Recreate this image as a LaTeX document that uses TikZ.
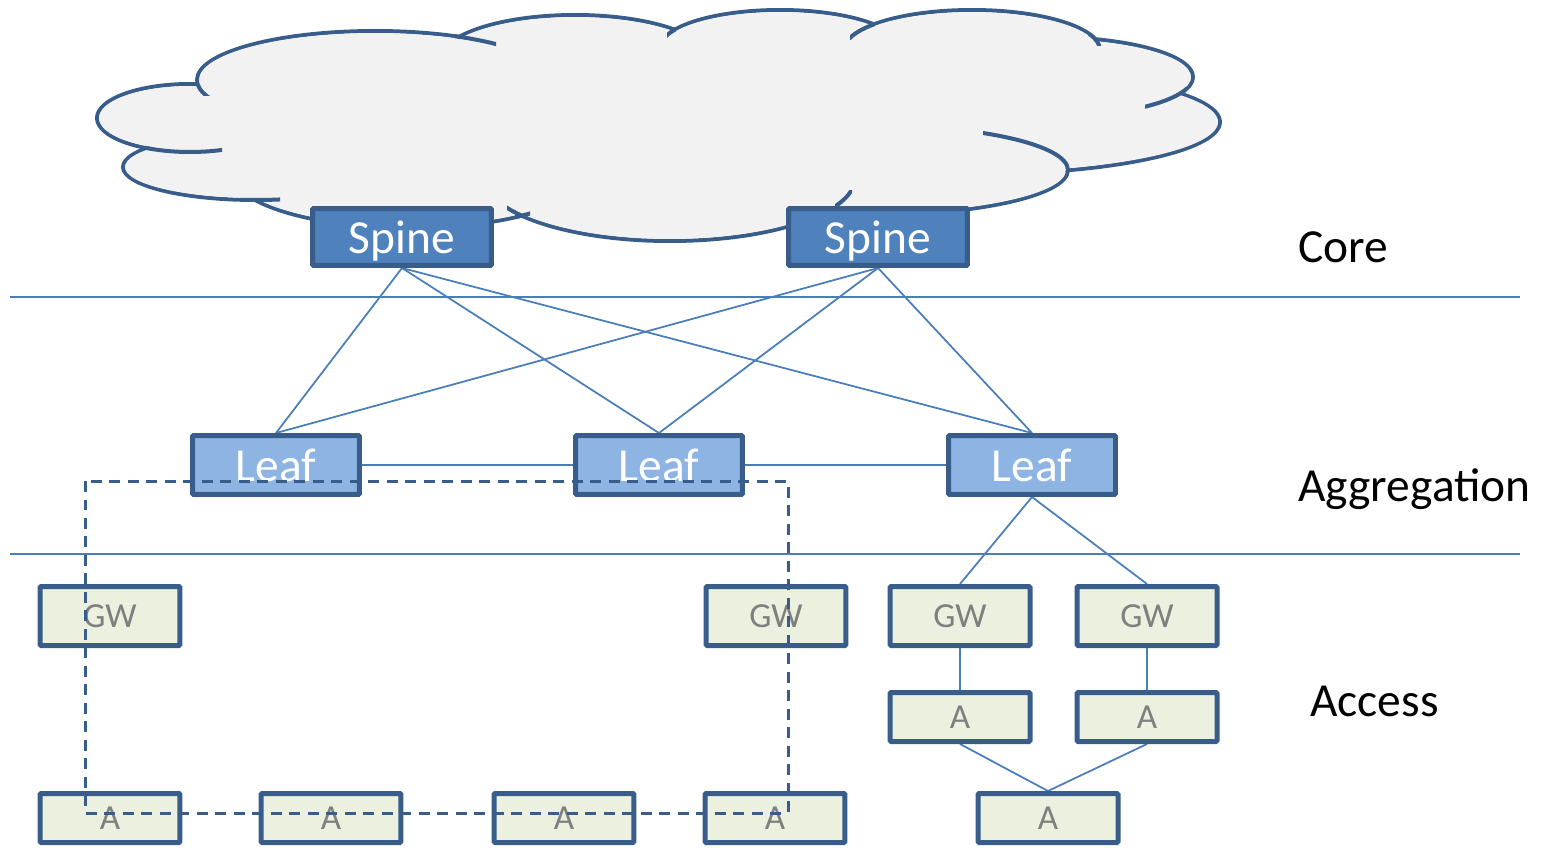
\documentclass[tikz,border=0pt]{standalone}
\usepackage{fontspec}
\setmainfont{Carlito}
\usetikzlibrary{backgrounds}
\definecolor{boxline}{HTML}{385D8A}
\definecolor{cloudfill}{HTML}{F2F2F2}
\definecolor{spinefill}{HTML}{4F81BD}
\definecolor{leaffill}{HTML}{8EB4E3}
\definecolor{accfill}{HTML}{EBF1DE}
\definecolor{linkcol}{HTML}{4A7EBB}
\definecolor{txtgray}{HTML}{7F7F7F}
\begin{document}
\begin{tikzpicture}[x=0.02cm,y=-0.02cm,
  cloudstroke/.style={draw=boxline,line width=0.08cm},
  basebox/.style={draw=boxline,line width=0.1cm,rounded corners=0.6pt,inner sep=0pt},
  spinebox/.style={basebox,fill=spinefill,minimum width=3.58cm,minimum height=1.14cm,text depth=0pt,text=white,font=\fontsize{27}{30}\selectfont},
  leafbox/.style={basebox,fill=leaffill,minimum width=3.34cm,minimum height=1.18cm,text=white,font=\fontsize{27}{30}\selectfont},
  gwbox/.style={basebox,fill=accfill,minimum width=2.8cm,minimum height=1.18cm,text=txtgray,font=\fontsize{20}{24}\selectfont},
  abox/.style={basebox,fill=accfill,minimum width=2.8cm,minimum height=0.98cm,text=txtgray,font=\fontsize{20}{24}\selectfont},
  link/.style={draw=linkcol,line width=1pt},
  sepline/.style={draw=linkcol,line width=1.1pt},
  dashline/.style={draw=boxline,line width=0.06cm,dash pattern=on 0.22cm off 0.15cm},
  layerlabel/.style={anchor=west,inner sep=0pt,font=\fontsize{27}{30}\selectfont}]
\useasboundingbox (0,0) rectangle (1551,848);

% ---- nodes ----
\node[spinebox] (s1) at (402,237) {Spine};
\node[spinebox] (s2) at (878,237) {Spine};
\node[leafbox] (l1) at (276,465) {Leaf};
\node[leafbox] (l2) at (659,465) {Leaf};
\node[leafbox] (l3) at (1032,465) {Leaf};
\node[gwbox] (g1) at (110,616) {GW};
\node[gwbox] (g2) at (776,616) {GW};
\node[gwbox] (g3) at (960,616) {GW};
\node[gwbox] (g4) at (1147,616) {GW};
\node[abox] (a3) at (960,717) {A};
\node[abox] (a4) at (1147,717) {A};
\node[abox] (a5) at (1048,818) {A};
\node[abox] (b1) at (110,818) {A};
\node[abox] (b2) at (331,818) {A};
\node[abox] (b3) at (564,818) {A};
\node[abox] (b4) at (775,818) {A};

\begin{scope}[on background layer]
% ---- cloud ----
\def\cloudlist{190/118/1.86/0.68, 256/167/2.66/0.66, 410/171/3.6/1.14, 670/178/3.7/1.26, 871/170/3.94/0.90, 977/122/4.86/1.04, 1048/77/2.90/0.80, 972/50/2.56/0.80, 780/48/2.40/0.76, 575/60/2.70/0.90, 375/80/3.56/0.98}
\foreach \cx/\cy/\rx/\ry in \cloudlist {
  \filldraw[fill=cloudfill,cloudstroke] (\cx,\cy) ellipse [x radius=\rx cm,y radius=\ry cm];
}
\fill[cloudfill] (640,120) ellipse [x radius=8cm,y radius=1.4cm];
\foreach \cx/\cy/\rx/\ry in \cloudlist {
  \fill[cloudfill] (\cx,\cy) ellipse [x radius=\rx cm-0.04cm,y radius=\ry cm-0.04cm];
}
% inner hooks
\foreach \cx/\cy/\rx/\ry/\xa/\ya/\xb/\yb in {
  375/80/3.56/0.98/195/85/210/96,
  375/80/3.56/0.98/455/30/496/50,
  780/48/2.40/0.76/667/26/676/38,
  972/50/2.56/0.80/850/20/875/40,
  972/50/2.56/0.80/1088/34/1102/46,
  1048/77/2.90/0.80/1145/85/1186/110,
  871/170/3.94/0.90/983/125/1072/171,
  670/178/3.7/1.26/835/190/852/207,
  670/178/3.7/1.26/507/205/523/218,
  410/171/3.6/1.14/515/208/530/222,
  256/167/2.66/0.66/240/190/280/204,
  190/118/1.86/0.68/145/140/222/156} {
  \begin{scope}
    \clip (\xa,\ya) rectangle (\xb,\yb);
    \draw[cloudstroke] (\cx,\cy) ellipse [x radius=\rx cm,y radius=\ry cm];
  \end{scope}
}
% ---- separators ----
\draw[sepline] (10,297) -- (1520,297);
\draw[sepline] (10,554) -- (1520,554);
% ---- connectors ----
\foreach \s in {s1,s2} {
  \foreach \l in {l1,l2,l3} {
    \draw[link] (\s.south) -- (\l.north);
  }
}
\draw[link] (l1.east) -- (l2.west);
\draw[link] (l2.east) -- (l3.west);
\draw[link] (l3.south) -- (g3.north);
\draw[link] (l3.south) -- (g4.north);
\draw[link] (g3.south) -- (a3.north);
\draw[link] (g4.south) -- (a4.north);
\draw[link] (a3.south) -- (a5.north);
\draw[link] (a4.south) -- (a5.north);
\end{scope}

% ---- dashed region ----
\draw[dashline] (85,481) rectangle (788,813);

% ---- layer labels ----
\node[layerlabel] (core) at (1298,247) {Core};
\node[layerlabel] (agg) at (1298,489) {Aggregation};
\node[layerlabel] (acc) at (1310,701) {Access};
\end{tikzpicture}
\end{document}
